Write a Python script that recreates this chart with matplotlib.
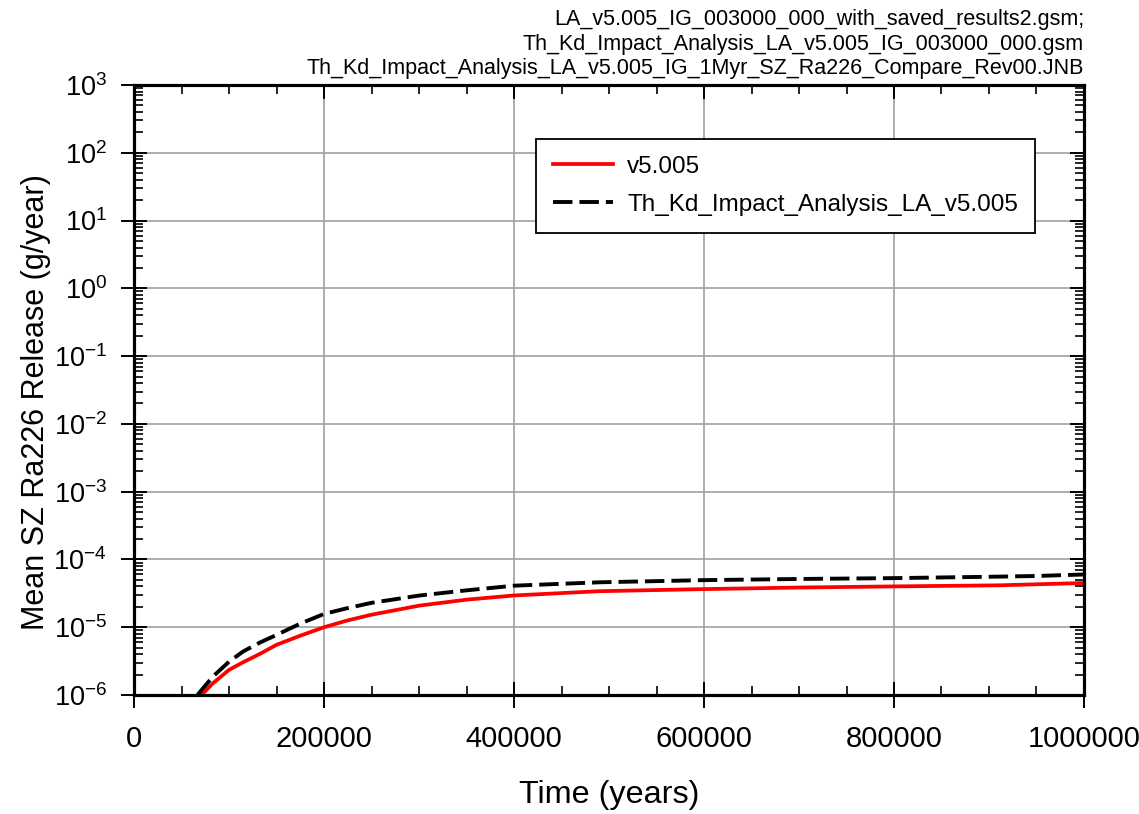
import numpy as np
import matplotlib
matplotlib.use("Agg")
import matplotlib.pyplot as plt
from matplotlib.ticker import LogLocator, MultipleLocator, NullFormatter, StrMethodFormatter

plt.rcParams['font.family'] = ['Liberation Sans', 'DejaVu Sans']
plt.rcParams['mathtext.fontset'] = 'custom'
plt.rcParams['mathtext.rm'] = 'Liberation Sans'

# values
t_v5 = [71000, 83000, 100000, 115000, 132600, 150000, 175000, 200000, 223800, 250000,
        300000, 350000, 400000, 490000, 600000, 700000, 800000, 910000, 1000000]
rel_v5 = [1.0e-6, 1.49e-6, 2.35e-6, 3.05e-6, 4.05e-6, 5.5e-6, 7.5e-6, 1.0e-5, 1.25e-5,
          1.53e-5, 2.08e-5, 2.55e-5, 2.94e-5, 3.4e-5, 3.65e-5, 3.85e-5, 4.0e-5,
          4.15e-5, 4.49e-5]

t_thkd = [66700, 83000, 100000, 115000, 132600, 150000, 175000, 200000, 223800, 250000,
          300000, 350000, 400000, 490000, 600000, 700000, 800000, 900000, 950000, 1000000]
rel_thkd = [1.0e-6, 1.87e-6, 3.1e-6, 4.4e-6, 5.95e-6, 7.7e-6, 1.13e-5, 1.57e-5, 1.9e-5,
            2.29e-5, 2.93e-5, 3.5e-5, 4.1e-5, 4.6e-5, 4.95e-5, 5.15e-5, 5.3e-5,
            5.55e-5, 5.7e-5, 6.0e-5]

labels = ["v5.005", "Th_Kd_Impact_Analysis_LA_v5.005"]
header = ("LA_v5.005_IG_003000_000_with_saved_results2.gsm;\n"
          "Th_Kd_Impact_Analysis_LA_v5.005_IG_003000_000.gsm\n"
          "Th_Kd_Impact_Analysis_LA_v5.005_IG_1Myr_SZ_Ra226_Compare_Rev00.JNB")

fig = plt.figure(figsize=(11.39, 8.14), dpi=100)
ax = fig.add_axes([0.1177, 0.1462, 0.834, 0.7494])

ax.plot(t_v5, rel_v5, color='red', lw=2.7, label=labels[0], zorder=3)
ax.plot(t_thkd, rel_thkd, color='black', lw=2.8, dashes=(5, 1.8),
        label=labels[1], zorder=3)

ax.set_yscale('log')
ax.set_xlim(0, 1000000)
ax.set_ylim(1e-6, 1e3)
ax.xaxis.set_major_locator(MultipleLocator(200000))
ax.xaxis.set_minor_locator(MultipleLocator(50000))
ax.xaxis.set_major_formatter(StrMethodFormatter('{x:.0f}'))
ax.yaxis.set_major_locator(LogLocator(base=10, numticks=20))
ax.yaxis.set_minor_locator(LogLocator(base=10, subs=np.arange(2, 10), numticks=20))
ax.yaxis.set_minor_formatter(NullFormatter())

ax.grid(True, which='major', color='#a0a0a0', lw=1.2)
ax.set_axisbelow(True)
for s in ax.spines.values():
    s.set_linewidth(2.2)

ax.tick_params(which='major', direction='inout', length=19, width=1.4, pad=10)
ax.tick_params(axis='x', which='major', pad=12, labelsize=21)
ax.tick_params(axis='y', which='major', labelsize=19.5)
ax.tick_params(which='minor', direction='in', length=6.5, width=1.2)

# inward ticks on top and right
axt = ax.twiny()
axt.set_xlim(ax.get_xlim())
axt.xaxis.set_major_locator(MultipleLocator(200000))
axt.xaxis.set_minor_locator(MultipleLocator(50000))
axt.tick_params(which='major', direction='in', length=10, width=1.4, labeltop=False)
axt.tick_params(which='minor', direction='in', length=6.5, width=1.2)
axr = ax.twinx()
axr.set_yscale('log')
axr.set_ylim(ax.get_ylim())
axr.yaxis.set_major_locator(LogLocator(base=10, numticks=20))
axr.yaxis.set_minor_locator(LogLocator(base=10, subs=np.arange(2, 10), numticks=20))
axr.tick_params(which='major', direction='in', length=10, width=1.4, labelright=False)
axr.tick_params(which='minor', direction='in', length=6.5, width=1.2, labelright=False)
for a in (axt, axr):
    for s in a.spines.values():
        s.set_linewidth(2.2)

ax.set_xlabel("Time (years)", fontsize=23.3)
ax.set_ylabel("Mean SZ Ra226 Release (g/year)", fontsize=22)
ax.xaxis.set_label_coords(0.5, -0.140)
ax.yaxis.set_label_coords(-0.087, 0.48)

leg = ax.legend(loc='upper left', bbox_to_anchor=(0.423, 0.754, 0.525, 0.1575),
                mode='expand', fontsize=17.5, fancybox=False, framealpha=1,
                edgecolor='black', borderpad=0.7, labelspacing=0.64,
                handlelength=2.47, handletextpad=0.58, borderaxespad=0)
leg.get_frame().set_linewidth(1.3)
leg.set_zorder(5)

fig.text(0.9517, 0.989, header, ha='right', va='top', fontsize=15.5, linespacing=1.23)

fig.savefig("out.png", dpi=100)
